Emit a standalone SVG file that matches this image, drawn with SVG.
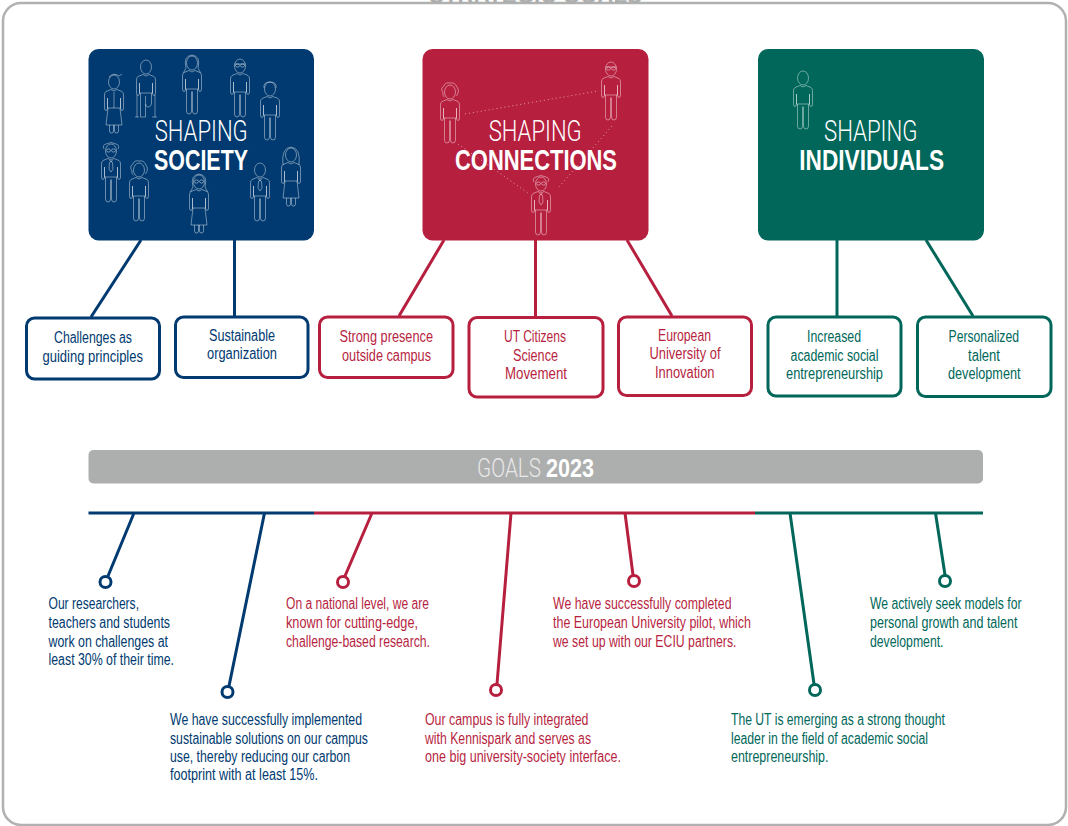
<svg xmlns="http://www.w3.org/2000/svg" xmlns:xlink="http://www.w3.org/1999/xlink" width="1068" height="826" viewBox="0 0 1068 826">
<style>
text{font-family:"Liberation Sans",Arial,sans-serif;font-size:16px}
.title-l{font-family:Roboto,"Liberation Sans",sans-serif;font-weight:300;font-size:29.500px;fill:#fff}
.title-b{font-weight:700;font-size:29.500px;fill:#fff}
.b{fill:#003a70}.r{fill:#b71f3f}.g{fill:#00675a}
.bs{stroke:#003a70}.rs{stroke:#b71f3f}.gs{stroke:#00675a}
.box{fill:#fff;stroke-width:3}
.ln{fill:none;stroke-width:3}
.dot{fill:#fff;stroke-width:3}
.p{fill:none;stroke:#fff;stroke-opacity:.42;stroke-width:1;stroke-linejoin:round}
.dots{fill:none;stroke:#fff;stroke-opacity:.55;stroke-width:1;stroke-dasharray:1 3}
</style>
<defs>
<path id="torso" d="M-3,14.500L-8,16.500Q-9.500,17.500-9.500,20V33Q-9.500,35.500-8,35.500Q-6.500,35.500-6.500,33V23M3,14.500L8,16.500Q9.500,17.500 9.500,20V33Q9.500,35.500 8,35.500Q6.500,35.500 6.500,33V23M-6.500,23V33H6.500V23M-3,14.500Q0,17.500 3,14.500"/>
<path id="legs" d="M-5.500,33V55Q-5.500,58-3,58Q-.5,58-.5,55V36M5.500,33V55Q5.500,58 3,58Q.5,58 .5,55V36M-.5,36Q0,35 .5,36"/>
<path id="skirt" d="M-6,33L-8,50H8L6,33M-4.500,50V56Q-4.500,58-2.500,58Q-.5,58-.5,56V50M4.500,50V56Q4.500,58 2.500,58Q.5,58 .5,56V50"/>
<ellipse id="head" cx="0" cy="7" rx="5.500" ry="7"/>
<path id="glasses" d="M-4.500,6.500a2,1.600 0 1 0 4,0a2,1.600 0 1 0-4,0M.5,6.500a2,1.600 0 1 0 4,0a2,1.600 0 1 0-4,0"/>
<path id="tie" d="M-1.500,16L0,18L1.500,16M-1.500,18.500L0,17.500L1.500,18.500L2,25L0,28L-2,25Z"/>
<path id="curls" d="M-7,8Q-10,3-6,1Q-5-3 0-2Q5-3 7,2Q10,6 6.500,11M-7,8Q-8,11-5.500,12"/>
<path id="long" d="M-6,12Q-9,0 0,-1Q9,0 6,12Q8,16 9,17M-6,12Q-8,16-9,17"/>
<path id="veil" d="M-8,17Q-10,0 0,-1Q10,0 8,17"/>
</defs>

<rect x="3" y="3" width="1063" height="822" rx="18" fill="#fff" stroke="#b0b1b1" stroke-width="2.500"/>
<text x="429" y="3" textLength="213" lengthAdjust="spacingAndGlyphs" fill="#adaeae" style="font-size:24px;font-weight:700">STRATEGIC GOALS</text>

<g id="connectors">
<path class="ln bs" d="M141,240L91,317M234.500,240V316M88.500,513H314M134,513L108,576M264.500,513L229,686"/>
<path class="ln rs" d="M444,240L399,316M535.500,240V317M627,240L672,316M314,513H755M372,513L345,576M511,513L497,684M625,513L633,575"/>
<path class="ln gs" d="M837,240V316M926,240L973,316M755,513H983M790,513L814,684M935.500,513L945,575"/>
<circle class="dot bs" cx="105.500" cy="582" r="5.500"/><circle class="dot bs" cx="227.500" cy="692" r="5.500"/>
<circle class="dot rs" cx="343" cy="582" r="5.500"/><circle class="dot rs" cx="496" cy="690" r="5.500"/><circle class="dot rs" cx="634" cy="581" r="5.500"/>
<circle class="dot gs" cx="815" cy="690" r="5.500"/><circle class="dot gs" cx="945" cy="581" r="5.500"/>
</g>

<g id="node-society">
<rect class="b" x="88.500" y="49" width="225.500" height="191.500" rx="10"/>
<g class="p">
<g transform="translate(114,75)"><use href="#head"/><path d="M-5,2Q0-3 5,1L8,-1"/><use href="#torso"/><use href="#skirt"/><path d="M0,17V33"/></g>
<g transform="translate(146,60)"><use href="#head"/><use href="#torso"/><path d="M-5.500,33V57M-.5,36V57M-.5,57H-5.500M5.500,33V42Q5.500,47 2,47Q0,47-.5,44M-9,35V57M9,35V57M6,57H11M-11,57H-7"/></g>
<g transform="translate(192,56)"><use href="#head"/><use href="#long"/><use href="#torso"/><use href="#legs"/></g>
<g transform="translate(240,59)"><use href="#head"/><path d="M-5.500,5H5.500"/><use href="#glasses"/><use href="#torso"/><use href="#legs"/></g>
<g transform="translate(270,82)"><use href="#head"/><path d="M-6,6Q-7,0 0,0Q7,0 6,6"/><use href="#torso"/><use href="#legs"/></g>
<g transform="translate(111,144)"><use href="#head"/><path d="M-7,5Q-9,1-5,0Q0-3 5,0Q9,1 7,5"/><use href="#glasses"/><use href="#tie"/><use href="#torso"/><use href="#legs"/></g>
<g transform="translate(139,163)"><use href="#head"/><use href="#curls"/><use href="#torso"/><use href="#legs"/></g>
<g transform="translate(199,175)"><use href="#head"/><use href="#long"/><use href="#glasses"/><use href="#torso"/><use href="#skirt"/></g>
<g transform="translate(260,163)"><use href="#head"/><use href="#tie"/><use href="#torso"/><use href="#legs"/></g>
<g transform="translate(291,148)"><use href="#head"/><use href="#veil"/><use href="#torso"/><use href="#skirt"/></g>
</g>
<text class="title-l" x="154.700" y="140.700" textLength="93" lengthAdjust="spacingAndGlyphs">SHAPING</text>
<text class="title-b" x="154" y="170" textLength="94" lengthAdjust="spacingAndGlyphs">SOCIETY</text>
</g>

<g id="node-connections">
<rect class="r" x="422.500" y="49" width="226" height="191.500" rx="10"/>
<path class="dots" d="M465,114L598,91M458,144L528,193M612,126L558,188"/>
<g class="p">
<g transform="translate(450,85)"><use href="#head"/><use href="#curls"/><use href="#torso"/><use href="#legs"/></g>
<g transform="translate(611,62)"><use href="#head"/><path d="M-5.500,5H5.500"/><use href="#glasses"/><use href="#torso"/><use href="#legs"/></g>
<g transform="translate(541,177)"><use href="#head"/><path d="M-7,5Q-9,1-5,0Q0-3 5,0Q9,1 7,5"/><use href="#glasses"/><use href="#tie"/><use href="#torso"/><use href="#legs"/></g>
</g>
<text class="title-l" x="488.700" y="140.700" textLength="93" lengthAdjust="spacingAndGlyphs">SHAPING</text>
<text class="title-b" x="455" y="170" textLength="162" lengthAdjust="spacingAndGlyphs">CONNECTIONS</text>
</g>

<g id="node-individuals">
<rect class="g" x="758" y="49" width="226" height="191.500" rx="10"/>
<g class="p"><g transform="translate(803,71)"><use href="#head"/><use href="#torso"/><use href="#legs"/></g></g>
<text class="title-l" x="824" y="140.700" textLength="93.500" lengthAdjust="spacingAndGlyphs">SHAPING</text>
<text class="title-b" x="799.300" y="169.500" textLength="144.700" lengthAdjust="spacingAndGlyphs">INDIVIDUALS</text>
</g>

<g id="node-challenges">
<rect class="box bs" x="26.500" y="318" width="133" height="61" rx="8"/>
<text class="b" x="54" y="343" textLength="78" lengthAdjust="spacingAndGlyphs">Challenges as</text>
<text class="b" x="42.500" y="362" textLength="100.500" lengthAdjust="spacingAndGlyphs">guiding principles</text>
</g>
<g id="node-sustainable">
<rect class="box bs" x="175.500" y="317" width="132.500" height="60.500" rx="8"/>
<text class="b" x="209" y="340.500" textLength="66" lengthAdjust="spacingAndGlyphs">Sustainable</text>
<text class="b" x="207" y="359" textLength="70" lengthAdjust="spacingAndGlyphs">organization</text>
</g>
<g id="node-presence">
<rect class="box rs" x="319.500" y="317" width="133.500" height="60.500" rx="8"/>
<text class="r" x="339.500" y="342" textLength="93.500" lengthAdjust="spacingAndGlyphs">Strong presence</text>
<text class="r" x="342" y="360.500" textLength="89" lengthAdjust="spacingAndGlyphs">outside campus</text>
</g>
<g id="node-citizens">
<rect class="box rs" x="469" y="317.500" width="134" height="79.500" rx="8"/>
<text class="r" x="504" y="342" textLength="62" lengthAdjust="spacingAndGlyphs">UT Citizens</text>
<text class="r" x="513" y="360.500" textLength="45" lengthAdjust="spacingAndGlyphs">Science</text>
<text class="r" x="505" y="379" textLength="62" lengthAdjust="spacingAndGlyphs">Movement</text>
</g>
<g id="node-european">
<rect class="box rs" x="618.500" y="317" width="133" height="78.500" rx="8"/>
<text class="r" x="658" y="340.500" textLength="53" lengthAdjust="spacingAndGlyphs">European</text>
<text class="r" x="649.500" y="359" textLength="71" lengthAdjust="spacingAndGlyphs">University of</text>
<text class="r" x="655" y="377.500" textLength="59.500" lengthAdjust="spacingAndGlyphs">Innovation</text>
</g>
<g id="node-entrepreneurship">
<rect class="box gs" x="768" y="317" width="133" height="79" rx="8"/>
<text class="g" x="807" y="342" textLength="54" lengthAdjust="spacingAndGlyphs">Increased</text>
<text class="g" x="790.500" y="360.500" textLength="88" lengthAdjust="spacingAndGlyphs">academic social</text>
<text class="g" x="786" y="378.500" textLength="97" lengthAdjust="spacingAndGlyphs">entrepreneurship</text>
</g>
<g id="node-talent">
<rect class="box gs" x="917.500" y="317" width="133.500" height="79.500" rx="8"/>
<text class="g" x="948.500" y="342" textLength="70.500" lengthAdjust="spacingAndGlyphs">Personalized</text>
<text class="g" x="968" y="360.500" textLength="32" lengthAdjust="spacingAndGlyphs">talent</text>
<text class="g" x="948" y="378.500" textLength="72.500" lengthAdjust="spacingAndGlyphs">development</text>
</g>

<g id="node-goals-bar">
<rect x="88.500" y="450" width="894.500" height="33.500" rx="5" fill="#adaeae"/>
<text x="477" y="476.500" textLength="64" lengthAdjust="spacingAndGlyphs" style="font-family:Roboto,'Liberation Sans',sans-serif;font-weight:300;font-size:26px;fill:#e8e8e8">GOALS</text>
<text x="546" y="476.500" textLength="48" lengthAdjust="spacingAndGlyphs" style="font-weight:700;font-size:26px;fill:#fff">2023</text>
</g>

<g id="goal-1" class="b">
<text x="48.500" y="609" textLength="90.500" lengthAdjust="spacingAndGlyphs">Our researchers,</text>
<text x="48.500" y="628" textLength="121.500" lengthAdjust="spacingAndGlyphs">teachers and students</text>
<text x="48.500" y="647" textLength="119.500" lengthAdjust="spacingAndGlyphs">work on challenges at</text>
<text x="48.500" y="665" textLength="125.500" lengthAdjust="spacingAndGlyphs">least 30% of their time.</text>
</g>
<g id="goal-2" class="b">
<text x="170" y="725" textLength="192" lengthAdjust="spacingAndGlyphs">We have successfully implemented</text>
<text x="170" y="743.500" textLength="198" lengthAdjust="spacingAndGlyphs">sustainable solutions on our campus</text>
<text x="170" y="762" textLength="180" lengthAdjust="spacingAndGlyphs">use, thereby reducing our carbon</text>
<text x="170" y="780" textLength="148" lengthAdjust="spacingAndGlyphs">footprint with at least 15%.</text>
</g>
<g id="goal-3" class="r">
<text x="286" y="609" textLength="143" lengthAdjust="spacingAndGlyphs">On a national level, we are</text>
<text x="286" y="628" textLength="132" lengthAdjust="spacingAndGlyphs">known for cutting-edge,</text>
<text x="286" y="646.500" textLength="144" lengthAdjust="spacingAndGlyphs">challenge-based research.</text>
</g>
<g id="goal-4" class="r">
<text x="425" y="725" textLength="163.500" lengthAdjust="spacingAndGlyphs">Our campus is fully integrated</text>
<text x="425" y="743.500" textLength="166" lengthAdjust="spacingAndGlyphs">with Kennispark and serves as</text>
<text x="425" y="762" textLength="196" lengthAdjust="spacingAndGlyphs">one big university-society interface.</text>
</g>
<g id="goal-5" class="r">
<text x="553" y="609" textLength="178.500" lengthAdjust="spacingAndGlyphs">We have successfully completed</text>
<text x="553" y="628" textLength="198" lengthAdjust="spacingAndGlyphs">the European University pilot, which</text>
<text x="553" y="646.500" textLength="183.500" lengthAdjust="spacingAndGlyphs">we set up with our ECIU partners.</text>
</g>
<g id="goal-6" class="g">
<text x="731" y="725" textLength="214" lengthAdjust="spacingAndGlyphs">The UT is emerging as a strong thought</text>
<text x="731" y="743.500" textLength="197" lengthAdjust="spacingAndGlyphs">leader in the field of academic social</text>
<text x="731" y="762" textLength="97.500" lengthAdjust="spacingAndGlyphs">entrepreneurship.</text>
</g>
<g id="goal-7" class="g">
<text x="870" y="609" textLength="151.500" lengthAdjust="spacingAndGlyphs">We actively seek models for</text>
<text x="870" y="628" textLength="147.500" lengthAdjust="spacingAndGlyphs">personal growth and talent</text>
<text x="870" y="646.500" textLength="73.500" lengthAdjust="spacingAndGlyphs">development.</text>
</g>
</svg>
